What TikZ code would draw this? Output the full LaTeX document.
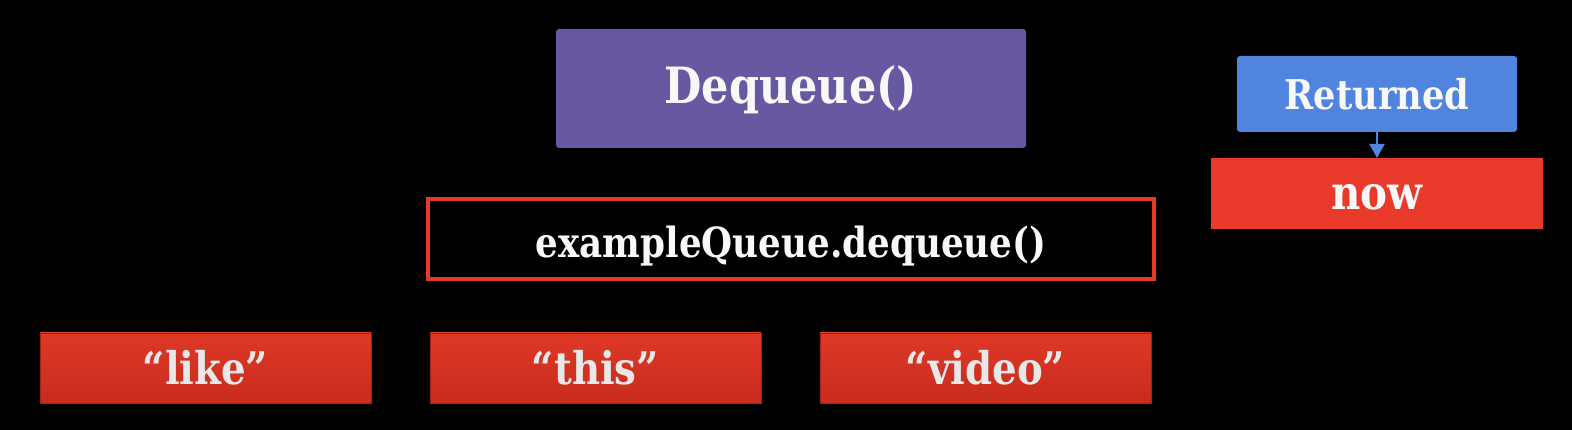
\documentclass[tikz,border=0pt]{standalone}
\usepackage{fontspec}
\setmainfont{DejaVu Serif}
\newfontfamily\slab{DejaVu Serif}[FakeStretch=0.86]
\usetikzlibrary{arrows.meta}
\definecolor{bgblack}{RGB}{0,0,0}
\definecolor{dqpurple}{RGB}{104,88,162}
\definecolor{boxred}{RGB}{230,58,41}
\definecolor{nowred}{RGB}{232,57,42}
\definecolor{itemtop}{RGB}{222,56,38}
\definecolor{itembot}{RGB}{200,44,30}
\definecolor{retblue}{RGB}{80,132,222}
\definecolor{txtwhite}{RGB}{248,248,248}
\definecolor{txtgray}{RGB}{232,232,232}
\tikzset{
  box/.style={inner sep=0pt, outer sep=0pt, align=center, font=\slab\bfseries},
  titlebox/.style={box, fill=dqpurple, rounded corners=3pt, minimum width=470pt, minimum height=119pt, text=txtwhite, font=\slab\bfseries\fontsize{50}{50}\selectfont},
  callbox/.style={box, draw=boxred, line width=4pt, fill=black, minimum width=726pt, minimum height=80pt, text=txtwhite, font=\slab\bfseries\fontsize{41.5}{41.5}\selectfont},
  retbox/.style={box, fill=retblue, rounded corners=3pt, minimum width=280pt, minimum height=76pt, text=txtwhite, font=\slab\bfseries\fontsize{41}{41}\selectfont},
  nowbox/.style={box, fill=nowred, minimum width=332pt, minimum height=71pt, text=txtwhite, font=\slab\bfseries\fontsize{47}{47}\selectfont},
  itembox/.style={box, top color=itemtop, bottom color=itembot, draw=itembot!80!black, line width=0.6pt, minimum width=331pt, minimum height=70pt, text=txtgray, font=\slab\bfseries\fontsize{45}{45}\selectfont},
  retarrow/.style={draw=retblue, line width=2pt, -{Triangle[length=14pt,width=15pt]}}
}
\newcommand{\lowered}[2]{\raisebox{-#1}[\height][\depth]{#2}}
\begin{document}
\begin{tikzpicture}[x=1pt,y=-1pt]
\fill[bgblack] (0,0) rectangle (1572,430);
\useasboundingbox (0,0) rectangle (1572,430);
\node[titlebox] (dq) at (791,88.5) {\lowered{1pt}{Dequeue()}};
\node[callbox] (call) at (791,239) {\lowered{7pt}{exampleQueue.dequeue()}};
\node[retbox] (ret) at (1377,94) {Returned};
\node[nowbox] (now) at (1377,193.5) {\lowered{4pt}{now}};
\node[itembox] (like) at (205.5,368) {“like”};
\node[itembox] (this) at (595.5,368) {“this”};
\node[itembox] (video) at (985.5,368) {“video”};
\draw[retarrow] (ret.south) -- (now.north);
\end{tikzpicture}
\end{document}
